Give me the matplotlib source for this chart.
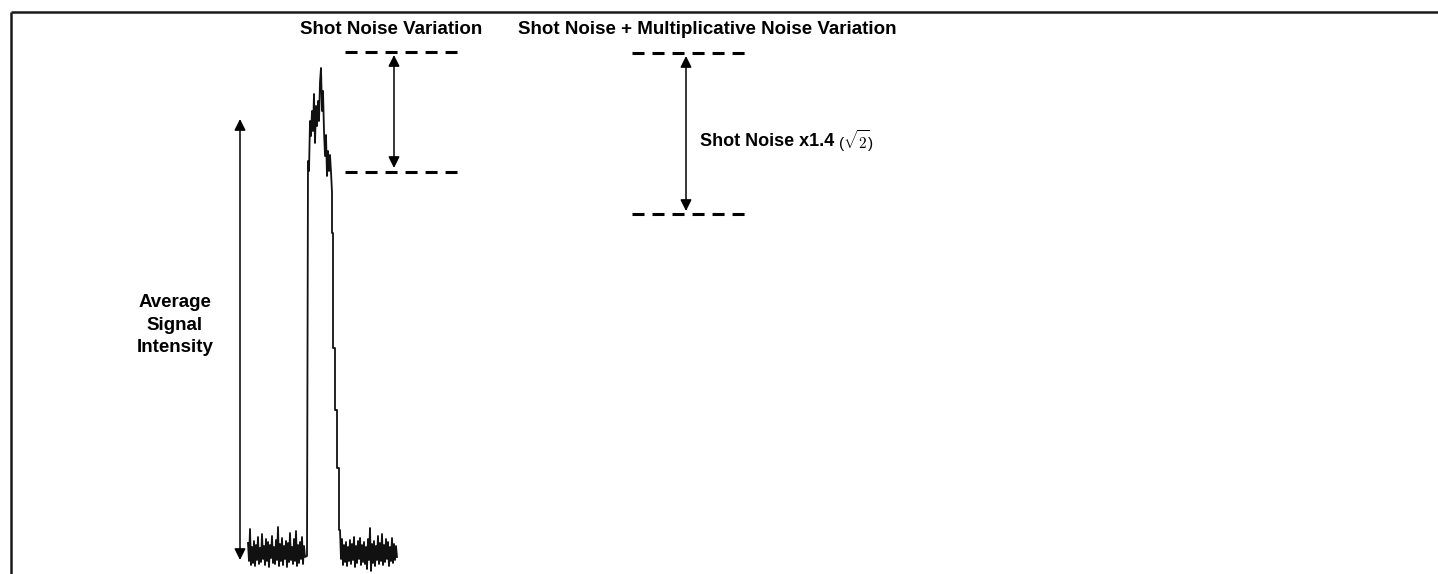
import matplotlib
matplotlib.use("Agg")
import matplotlib.pyplot as plt
import numpy as np

plt.rcParams["font.family"] = ["Liberation Sans", "DejaVu Sans"]
plt.rcParams["mathtext.fontset"] = "cm"

# Signal trace (intensity units, 0 = background level)
left_noise = [8, -10, 22, -14, 4, -12, 10, -15, 6, -9, 14, -13, 3, -11, 17,
              -8, 5, -14, 12, -10, 9, -16, 6, -7, 15, -12, 4, -13, 11, -9,
              24, -15, 7, -10, 13, -14, 5, -8, 10, -16, 8, -11, 18, -9, 4,
              -13, 12, -10, 20, -15, 6, -12, 9, -8, 14, -13, 5, -6]
peak_x = [307, 308, 309, 310, 311, 312, 313, 314, 315, 316, 317, 318, 319,
          320, 321, 322, 323, 324, 325, 326, 327, 328, 329, 330, 331, 332,
          332, 333, 333, 335, 335, 337, 337, 339, 339]
peak_y = [-5, 390, 380, 430, 415, 440, 420, 457, 408, 445, 425, 450, 430,
          469, 483, 440, 460, 420, 395, 416, 375, 400, 380, 396, 379, 359,
          318, 318, 203, 203, 141, 141, 83, 83, 21]
right_noise = [21, -8, 12, -14, 6, -11, 9, -15, 4, -10, 11, -13, 7, -9, 14,
               -16, 5, -12, 10, -8, 13, -14, 6, -11, 9, -13, 4, -18, 12, -9,
               23, -20, 7, -12, 10, -15, 5, -9, 15, -13, 8, -10, 17, -14, 6,
               -11, 12, -8, 9, -15, 4, -10, 13, -12, 7, -9, 5, -6]

avg_signal = (-9, 432)          # arrow ends, average signal intensity
shot_band = (499, 379)          # shot noise spread
mult_band = (498, 337)          # shot + multiplicative noise spread

titles = ["Shot Noise Variation", "Shot Noise + Multiplicative Noise Variation"]

fig = plt.figure(figsize=(14.38, 5.74), dpi=100)
ax = fig.add_axes([0, 0, 1, 1])
ax.set_xlim(0, 1438)
ax.set_ylim(-23, 551)
ax.axis("off")

# frame
ax.plot([10.5, 1438], [539, 539], color="#1a1a1a", lw=1.8, solid_capstyle="butt")
ax.plot([10.5, 10.5], [539, -23], color="#1a1a1a", lw=1.8, solid_capstyle="butt")

# trace
lx = np.arange(248, 248 + len(left_noise))
rx = np.arange(340, 340 + len(right_noise))
tx = np.concatenate([lx, peak_x, rx])
ty = np.concatenate([left_noise, peak_y, right_noise])
ax.plot(tx, ty, color="#111111", lw=1.3)

arrow = dict(arrowstyle="<|-|>,head_length=0.9,head_width=0.45",
             color="black", lw=1.1, shrinkA=0, shrinkB=0, mutation_scale=7.5)

# average signal
ax.annotate("", xy=(240, avg_signal[0]), xytext=(240, avg_signal[1]),
            arrowprops=arrow)
ax.text(175, 226, "Average\nSignal\nIntensity", ha="center", va="center",
        fontsize=13.5, fontweight="bold", linespacing=1.42)

dash = dict(color="black", lw=2.2, linestyle=(0, (3.93, 2.62)))

# shot noise variation
ax.hlines(shot_band, 345, 457, **dash)
ax.annotate("", xy=(394, shot_band[0] - 3), xytext=(394, shot_band[1] + 4),
            arrowprops=arrow)
ax.text(391, 522, titles[0], ha="center", va="center",
        fontsize=13.5, fontweight="bold")

# shot + multiplicative
ax.hlines(mult_band, 632, 745, **dash)
ax.annotate("", xy=(686, mult_band[0] - 3), xytext=(686, mult_band[1] + 3),
            arrowprops=arrow)
ax.text(707, 522, titles[1], ha="center", va="center",
        fontsize=13.5, fontweight="bold")
lab = ax.text(700, 410, "Shot Noise x1.4", ha="left", va="center",
              fontsize=13, fontweight="bold")
ax.annotate(r"($\sqrt{2}$)", xy=(1, 0.5), xycoords=lab, xytext=(3, 0),
            textcoords="offset points", ha="left", va="center", fontsize=11)

fig.savefig("out.png", dpi=100)
